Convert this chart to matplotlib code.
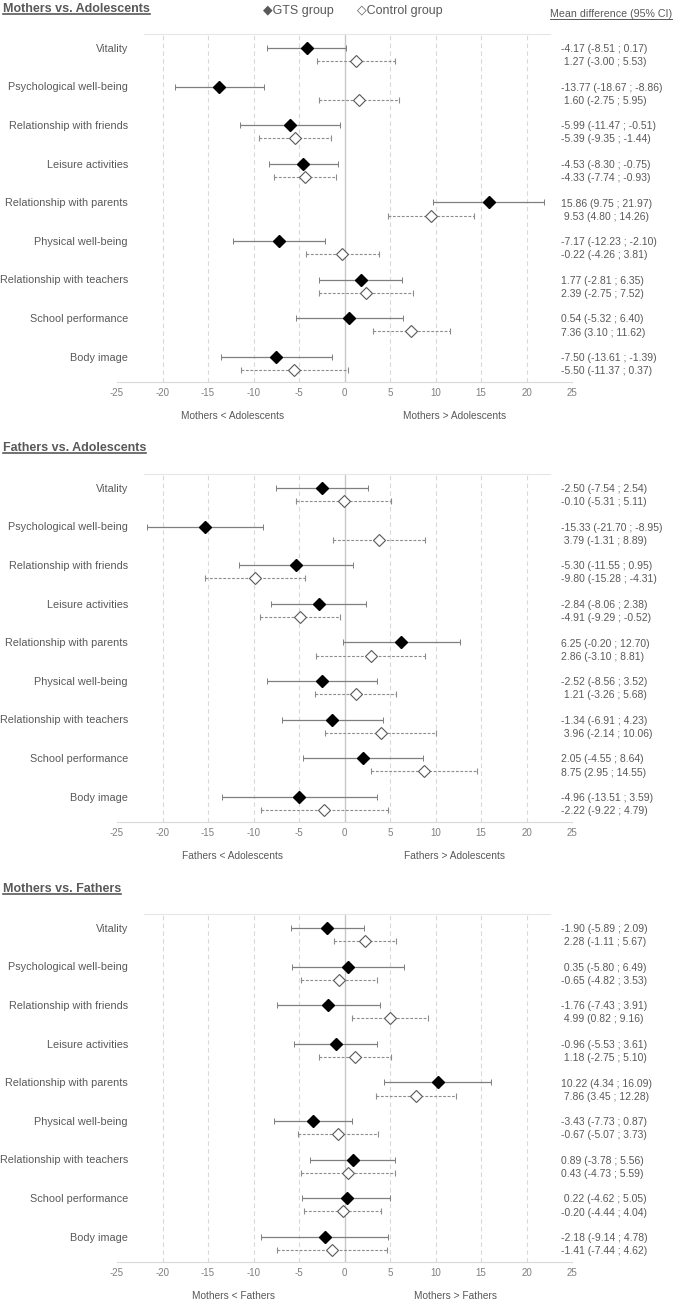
import numpy as np
import matplotlib
matplotlib.use("Agg")
import matplotlib.pyplot as plt
import matplotlib.transforms as mtransforms
from matplotlib.lines import Line2D

plt.rcParams['font.family'] = ['Liberation Sans', 'DejaVu Sans']
plt.rcParams['axes.unicode_minus'] = False

# categories (top to bottom)
categories = ["Vitality", "Psychological well-being", "Relationship with friends",
              "Leisure activities", "Relationship with parents", "Physical well-being",
              "Relationship with teachers", "School performance", "Body image"]

titles = ["Mothers vs. Adolescents", "Fathers vs. Adolescents", "Mothers vs. Fathers"]
lower_labels = [("Mothers < Adolescents", "Mothers > Adolescents"),
                ("Fathers < Adolescents", "Fathers > Adolescents"),
                ("Mothers < Fathers", "Mothers > Fathers")]

# mean, lower CI, upper CI  -- GTS group
gts_mean = [[-4.17, -13.77, -5.99, -4.53, 15.86, -7.17, 1.77, 0.54, -7.50],
            [-2.50, -15.33, -5.30, -2.84, 6.25, -2.52, -1.34, 2.05, -4.96],
            [-1.90, 0.35, -1.76, -0.96, 10.22, -3.43, 0.89, 0.22, -2.18]]
gts_lo = [[-8.51, -18.67, -11.47, -8.30, 9.75, -12.23, -2.81, -5.32, -13.61],
          [-7.54, -21.70, -11.55, -8.06, -0.20, -8.56, -6.91, -4.55, -13.51],
          [-5.89, -5.80, -7.43, -5.53, 4.34, -7.73, -3.78, -4.62, -9.14]]
gts_hi = [[0.17, -8.86, -0.51, -0.75, 21.97, -2.10, 6.35, 6.40, -1.39],
          [2.54, -8.95, 0.95, 2.38, 12.70, 3.52, 4.23, 8.64, 3.59],
          [2.09, 6.49, 3.91, 3.61, 16.09, 0.87, 5.56, 5.05, 4.78]]

# control group
ctl_mean = [[1.27, 1.60, -5.39, -4.33, 9.53, -0.22, 2.39, 7.36, -5.50],
            [-0.10, 3.79, -9.80, -4.91, 2.86, 1.21, 3.96, 8.75, -2.22],
            [2.28, -0.65, 4.99, 1.18, 7.86, -0.67, 0.43, -0.20, -1.41]]
ctl_lo = [[-3.00, -2.75, -9.35, -7.74, 4.80, -4.26, -2.75, 3.10, -11.37],
          [-5.31, -1.31, -15.28, -9.29, -3.10, -3.26, -2.14, 2.95, -9.22],
          [-1.11, -4.82, 0.82, -2.75, 3.45, -5.07, -4.73, -4.44, -7.44]]
ctl_hi = [[5.53, 5.95, -1.44, -0.93, 14.26, 3.81, 7.52, 11.62, 0.37],
          [5.11, 8.89, -4.31, -0.52, 8.81, 5.68, 10.06, 14.55, 4.79],
          [5.67, 3.53, 9.16, 5.10, 12.28, 3.73, 5.59, 4.04, 4.62]]

W, H = 673, 1299
TXT = "#595959"
fig = plt.figure(figsize=(W / 100, H / 100), dpi=100)


def fx(x):
    return x / W


def fy(y):
    return 1 - y / H


def fmt(m, lo, hi, other):
    s = f"{m:.2f} ({lo:.2f} ; {hi:.2f})"
    if len(f"{m:.2f}") < len(f"{other:.2f}"):
        s = " " + s
    return s


underlined = []
rows = np.arange(len(categories))

for p in range(3):
    off = 440 * p
    ax = fig.add_axes([fx(117), fy(382 + off), fx(455), 348 / H])
    ax.set_xlim(-25, 25)
    ax.set_ylim(8.65, -0.36)

    for g in range(-20, 25, 5):
        if g == 0:
            ax.axvline(0, color="#c8c8c8", lw=1.0, zorder=0)
        else:
            ax.axvline(g, color="#d9d9d9", lw=0.8, ls=(0, (4, 3)), zorder=0)

    gm = np.array(gts_mean[p]); cm = np.array(ctl_mean[p])
    eb = ax.errorbar(gm, rows, xerr=[gm - np.array(gts_lo[p]), np.array(gts_hi[p]) - gm],
                     fmt='D', ms=6.2, mfc='black', mec='black', ecolor='#7f7f7f',
                     elinewidth=0.9, capsize=2, capthick=0.7, zorder=3)
    eb2 = ax.errorbar(cm, rows + 0.34, xerr=[cm - np.array(ctl_lo[p]), np.array(ctl_hi[p]) - cm],
                      fmt='D', ms=6.6, mfc='white', mec='#595959', mew=0.8, ecolor='#8c8c8c',
                      elinewidth=0.8, capsize=2, capthick=0.7, zorder=3)
    eb2.lines[2][0].set_linestyle((0, (2.5, 1.5)))

    for s in ['left', 'right']:
        ax.spines[s].set_visible(False)
    ax.spines['bottom'].set_color('#d9d9d9')
    ax.spines['top'].set_color('#e6e6e6')
    ax.spines['top'].set_bounds(-22, 22.6)
    ax.set_yticks([])
    ax.set_xticks(range(-25, 26, 5))
    ax.tick_params(axis='x', length=0, pad=4, labelsize=7, labelcolor='#7f7f7f')

    tr = mtransforms.blended_transform_factory(fig.transFigure, ax.transData)
    for i, cat in enumerate(categories):
        ax.text(fx(128), i + 0.02, cat, transform=tr, ha='right', va='center',
                fontsize=7.8, color=TXT)
        ax.text(fx(561), i + 0.03, fmt(gts_mean[p][i], gts_lo[p][i], gts_hi[p][i], ctl_mean[p][i]),
                transform=tr, ha='left', va='center', fontsize=7.5, color=TXT)
        ax.text(fx(561), i + 0.37, fmt(ctl_mean[p][i], ctl_lo[p][i], ctl_hi[p][i], gts_mean[p][i]),
                transform=tr, ha='left', va='center', fontsize=7.5, color=TXT)

    left_lab, right_lab = lower_labels[p]
    fig.text(fx(233), fy(416 + off), left_lab, ha='center', va='center', fontsize=7.3, color=TXT)
    fig.text(fx(455), fy(416 + off), right_lab, ha='center', va='center', fontsize=7.3, color=TXT)

    t = fig.text(fx(3), fy(11.5 + off), titles[p], ha='left', va='baseline',
                 fontsize=9, fontweight='bold', color=TXT)
    underlined.append((t, 1.2))

fig.text(fx(263), fy(14), "\u25c6GTS group", ha='left', va='baseline', fontsize=9, color=TXT)
fig.text(fx(357), fy(14), "\u25c7Control group", ha='left', va='baseline', fontsize=9, color=TXT)
hdr = fig.text(fx(550), fy(17), "Mean difference (95% CI)", ha='left', va='baseline',
               fontsize=7.7, color=TXT)
underlined.append((hdr, 0.7))

fig.canvas.draw()
r = fig.canvas.get_renderer()
for t, lw in underlined:
    bb = t.get_window_extent(renderer=r)
    base_y = t.get_position()[1] * H - 2
    fig.add_artist(Line2D([bb.x0, bb.x1], [base_y, base_y], lw=lw, color=TXT,
                          transform=mtransforms.IdentityTransform()))

fig.savefig("out.png", dpi=100)
